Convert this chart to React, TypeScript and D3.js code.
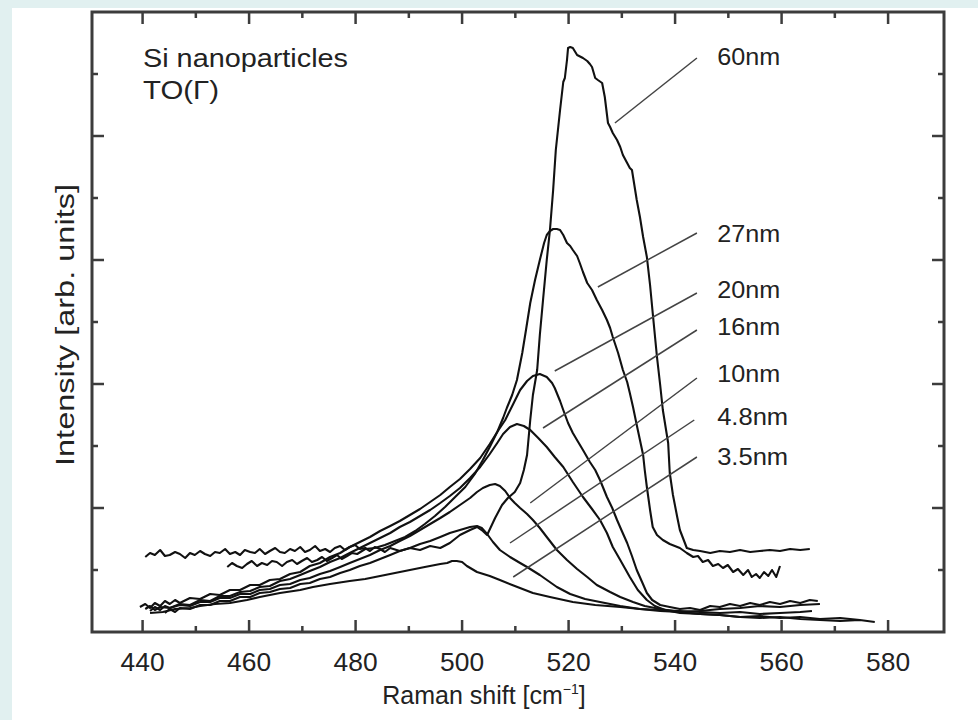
import React from 'react';
import * as d3 from 'd3';

const W = 978;
const H = 720;
const FRAME = { left: 92, right: 944, top: 12, bottom: 632 };

const xDomain: [number, number] = [430.5, 590.5];
const yDomain: [number, number] = [0, 620];

const xMajorTicks = [440, 460, 480, 500, 520, 540, 560, 580];
const xMinorTicks = [450, 470, 490, 510, 530, 550, 570];
const yMajorTicks = [124, 248, 372, 496];
const yMinorTicks = [62, 186, 310, 434, 558];

type P = [number, number];

// Raman shift (cm-1), intensity (arb. units)
const s60nm: P[] = [
  [440.5,75],[441.4,79],[442.3,77],[443.3,82],[444.2,76],[445.1,77],[446.1,80],[447.0,78],[448.0,74],[448.9,79],
  [449.8,77],[450.8,81],[451.7,78],[452.7,76],[453.6,80],[454.5,79],[455.5,83],[456.4,78],[457.4,80],[458.3,77],
  [459.2,82],[460.2,80],[461.1,79],[462.0,83],[463.0,78],[463.9,81],[464.9,84],[465.8,80],[466.7,79],[467.7,83],
  [468.6,81],[469.6,85],[470.5,80],[471.4,82],[472.4,86],[473.3,81],[474.3,83],[475.2,80],[476.1,84],[477.1,86],
  [478.0,82],[478.9,85],[479.9,87],[480.8,83],[481.8,84],[482.7,81],[483.6,85],[484.6,83],[485.5,80],[486.5,84],
  [488.3,81],[490.2,84],[492.1,82],[494.0,86],[495.9,84],[497.7,89],[499.6,97],[501.5,102],[502.8,105],[503.9,101],
  [504.7,97],[506.2,114],[507.5,127],[508.6,134],[509.9,140],[510.9,149],[511.6,162],[512.2,177],[512.8,212],[513.3,237],
  [514.1,262],[514.6,297],[515.2,332],[515.9,372],[516.5,402],[517.1,442],[517.6,482],[518.4,522],[519.0,550],[519.3,554],
  [519.7,572],[519.9,584],[520.3,585],[520.8,584],[521.6,577],[522.7,574],[523.5,571],[524.0,568],[524.4,565],[525.0,554],
  [525.5,552],[526.3,549],[526.8,535],[527.4,509],[527.8,505],[528.3,499],[529.1,492],[529.7,485],[530.2,477],[531.0,469],
  [531.5,464],[531.9,462],[532.8,432],[533.4,415],[534.0,395],[534.7,375],[535.3,347],[535.8,319],[536.6,275],[537.2,247],
  [537.7,222],[538.7,189],[539.0,159],[539.6,137],[540.4,115],[540.9,102],[542.2,84],[543.4,82],[544.7,81],[546.6,79],
  [548.4,81],[550.3,80],[552.2,82],[554.1,80],[555.9,81],[557.8,82],[559.7,81],[561.6,83],[563.5,82],[565.3,83],
];

const s27nm: P[] = [
  [455.9,65],[456.8,69],[457.7,66],[458.7,64],[459.6,68],[460.5,71],[461.5,66],[462.4,69],[463.4,67],[464.3,71],
  [465.2,70],[466.2,66],[467.1,70],[468.1,72],[469.0,68],[469.9,71],[470.9,74],[471.8,70],[472.8,72],[473.7,75],
  [474.6,71],[475.6,74],[476.5,77],[477.4,73],[478.4,76],[479.3,79],[480.3,78],[481.8,83],[483.6,84],[485.5,87],
  [487.4,91],[489.3,95],[491.2,101],[493.0,108],[494.9,116],[496.8,125],[498.7,135],[500.6,145],[502.4,158],[503.9,172],
  [505.2,185],[506.6,200],[507.7,214],[508.4,224],[509.4,237],[510.3,252],[511.3,279],[512.0,302],[512.8,329],[513.7,352],
  [514.6,372],[515.4,389],[515.9,397],[516.5,401],[517.1,403],[517.8,403],[518.4,402],[519.0,397],[519.7,389],[520.3,386],
  [520.8,382],[521.6,376],[522.1,369],[522.7,360],[523.5,349],[524.4,342],[525.3,332],[526.3,322],[527.2,312],[527.8,304],
  [528.3,295],[529.3,279],[530.2,262],[531.0,250],[531.5,239],[532.1,225],[532.8,207],[533.4,192],[534.0,177],[534.3,162],
  [534.7,145],[535.3,122],[535.8,105],[536.6,97],[537.7,92],[539.0,88],[540.9,84],[542.2,79],[543.4,75],[544.3,76],
  [545.2,70],[546.2,72],[547.1,66],[548.1,68],[549.0,64],[549.9,67],[550.9,60],[551.8,63],[552.8,57],[553.7,62],
  [554.4,55],[555.2,58],[555.9,54],[556.7,60],[557.5,56],[558.2,62],[559.0,55],[559.7,66],
];

const s20nm: P[] = [
  [439.5,25],[440.5,28],[441.4,24],[442.3,29],[443.3,26],[444.2,31],[445.1,28],[446.1,32],[447.0,29],[448.9,34],
  [450.8,33],[452.7,38],[454.5,37],[456.4,42],[458.3,42],[460.2,47],[462.0,47],[463.9,52],[465.8,53],[467.7,58],
  [469.6,60],[471.4,66],[473.3,69],[475.2,75],[477.1,79],[478.9,85],[480.8,90],[482.7,95],[484.6,101],[486.5,106],
  [488.3,111],[490.2,117],[492.1,123],[494.0,130],[495.9,137],[497.7,145],[499.6,153],[501.5,163],[503.4,174],[505.2,188],
  [506.6,200],[508.1,212],[509.6,228],[510.9,242],[512.2,251],[513.3,256],[514.6,258],[515.9,255],[516.9,249],[517.4,244],
  [518.4,231],[519.0,222],[519.9,209],[520.8,199],[521.8,190],[522.7,182],[524.0,170],[525.0,162],[525.9,152],[527.2,135],
  [528.2,124],[529.1,112],[530.0,101],[531.0,89],[531.9,76],[532.8,62],[533.8,50],[534.7,39],[535.7,32],[537.2,27],
  [539.0,25],[540.9,23],[542.8,24],[544.7,22],[546.6,26],[548.4,25],[550.3,28],[552.2,26],[554.1,29],[555.9,27],
  [557.8,30],[559.7,28],[561.6,31],[563.5,29],[565.3,32],[566.8,31],
];

const s16nm: P[] = [
  [441.4,21],[442.3,25],[443.3,22],[444.2,26],[445.1,24],[447.0,28],[448.9,27],[450.8,32],[452.7,31],[454.5,36],
  [456.4,36],[458.3,40],[460.2,41],[462.0,45],[463.9,46],[465.8,51],[467.7,53],[469.6,57],[471.4,61],[473.3,65],
  [475.2,70],[477.1,74],[478.9,79],[480.8,84],[482.7,89],[484.6,94],[486.5,99],[488.3,105],[490.2,110],[492.1,116],
  [494.0,122],[495.9,129],[497.7,136],[499.6,144],[501.5,154],[503.4,165],[505.2,178],[506.6,189],[507.7,198],[509.0,205],
  [510.3,208],[511.6,206],[512.8,202],[514.3,194],[515.9,185],[517.4,175],[519.0,165],[520.8,150],[522.7,135],[524.4,123],
  [525.9,112],[527.2,99],[528.3,85],[529.7,72],[531.5,55],[533.0,42],[534.7,32],[536.2,26],[538.1,22],[540.9,19],
  [544.7,18],[548.4,17],[552.2,15],[555.9,16],[559.7,14],[563.5,15],[567.2,13],[571.0,14],[574.7,12],
];

const s10nm: P[] = [
  [440.5,23],[441.4,26],[442.3,22],[443.3,25],[445.1,24],[447.0,27],[448.9,26],[450.8,30],[452.7,30],[454.5,34],
  [456.4,34],[458.3,38],[460.2,38],[462.0,42],[463.9,43],[465.8,47],[467.7,48],[469.6,52],[471.4,54],[473.3,58],
  [475.2,61],[477.1,65],[478.9,69],[480.8,73],[482.7,77],[484.6,82],[486.5,86],[488.3,91],[490.2,96],[492.1,102],
  [494.0,108],[495.9,114],[497.7,120],[499.6,127],[501.5,134],[502.8,140],[503.9,144],[505.2,147],[506.2,148],[507.1,146],
  [508.1,141],[509.0,134],[509.9,129],[510.9,124],[512.2,118],[513.3,112],[514.6,104],[515.9,95],[517.8,82],[519.7,72],
  [521.6,63],[523.5,55],[525.3,47],[527.8,40],[529.7,35],[532.1,30],[534.3,26],[537.2,23],[540.9,20],[544.7,18],
  [548.4,17],[552.2,15],[555.9,14],[559.7,15],[563.5,13],[567.2,12],[571.0,11],[574.7,12],[577.5,10],
];

const s4p8nm: P[] = [
  [444.2,19],[445.1,23],[446.1,20],[447.0,24],[448.9,23],[450.8,27],[452.7,27],[454.5,31],[456.4,31],[458.3,35],
  [460.2,35],[462.0,39],[463.9,40],[465.8,43],[467.7,44],[469.6,48],[471.4,49],[473.3,53],[475.2,55],[477.1,59],
  [478.9,62],[480.8,66],[482.7,69],[484.6,73],[486.5,77],[488.3,81],[490.2,84],[492.1,88],[494.0,91],[495.9,95],
  [497.7,99],[499.6,102],[501.5,105],[502.8,106],[503.7,104],[504.7,98],[505.8,90],[507.1,82],[509.0,75],[510.9,69],
  [512.2,65],[514.6,57],[517.8,45],[520.3,38],[523.1,33],[525.9,30],[529.7,26],[533.4,23],[537.2,21],[540.9,20],
  [544.7,21],[548.4,23],[552.2,24],[555.9,26],[559.7,25],[563.5,27],[567.2,28],
];

const s3p5nm: P[] = [
  [441.4,19],[443.8,20],[446.1,23],[448.9,24],[450.8,26],[453.6,28],[456.4,29],[459.6,32],[462.0,35],[465.8,39],
  [469.6,42],[472.0,45],[475.2,48],[478.9,51],[481.8,53],[484.6,56],[487.4,59],[490.2,62],[493.0,65],[495.9,68],
  [497.2,69],[498.1,71],[499.0,71],[500.0,70],[500.9,66],[502.8,60],[505.2,56],[507.1,52],[509.9,46],[513.3,39],
  [516.5,35],[520.8,30],[525.0,27],[529.7,25],[533.4,23],[537.2,22],[540.9,21],[544.7,20],[548.4,19],[552.2,20],
  [555.9,18],[559.7,19],[563.5,20],[565.7,21],
];

const seriesList: P[][] = [s60nm, s27nm, s20nm, s16nm, s10nm, s4p8nm, s3p5nm];

const sizeLabels = ['60nm', '27nm', '20nm', '16nm', '10nm', '4.8nm', '3.5nm'];
const labelX = 547.9;
const labelBaseline = [567, 390, 334, 297, 250, 207, 167];
const leaderFrom: P[] = [[544.1, 574], [544.1, 399], [544.1, 339], [544.1, 302], [544.1, 254], [543.6, 212], [544.1, 175]];
const leaderTo: P[] = [[528.7, 509], [525.5, 345], [517.4, 261], [515.2, 204], [512.8, 129], [509.0, 89], [509.6, 55]];

const FONT = "'Liberation Sans', Arial, Helvetica, sans-serif";

export default function App() {
  const x = d3.scaleLinear().domain(xDomain).range([FRAME.left, FRAME.right]);
  const y = d3.scaleLinear().domain(yDomain).range([FRAME.bottom, FRAME.top]);
  const line = d3.line<P>().x(d => x(d[0])).y(d => y(d[1]));

  const axisColor = '#3c3c3c';
  const majorLen = 12;
  const minorLen = 6;

  return (
    <div style={{ position: 'fixed', left: 0, top: 0, width: W, height: H }}>
      <svg width={W} height={H} style={{ display: 'block' }} fontFamily={FONT}>
        <rect x={0} y={0} width={W} height={H} fill="#e1f0f0" />
        <rect x={12} y={8} width={W - 12} height={H - 8} fill="#ffffff" />

        {/* curves */}
        <g fill="none" stroke="#111" strokeWidth={2.1} strokeLinejoin="round">
          {seriesList.map((s, i) => (
            <path key={i} d={line(s) || ''} />
          ))}
        </g>

        {/* leaders */}
        <g stroke="#444" strokeWidth={1.5}>
          {leaderFrom.map((p, i) => (
            <line key={i} x1={x(p[0])} y1={y(p[1])} x2={x(leaderTo[i][0])} y2={y(leaderTo[i][1])} />
          ))}
        </g>

        {/* labels */}
        <g fontSize={23} fill="#222">
          {sizeLabels.map((t, i) => (
            <text key={t} x={x(labelX)} y={y(labelBaseline[i])} textLength={t.length > 4 ? 71 : 63} lengthAdjust="spacingAndGlyphs">{t}</text>
          ))}
        </g>

        <text x={143} y={67} fontSize={25} fill="#222" textLength={205} lengthAdjust="spacingAndGlyphs">Si nanoparticles</text>
        <text x={143} y={99} fontSize={25} fill="#222" textLength={76} lengthAdjust="spacingAndGlyphs">TO(Γ)</text>

        {/* frame */}
        <rect x={FRAME.left} y={FRAME.top} width={FRAME.right - FRAME.left} height={FRAME.bottom - FRAME.top}
          fill="none" stroke={axisColor} strokeWidth={3} />

        {/* ticks */}
        <g stroke={axisColor} strokeWidth={2.5}>
          {xMajorTicks.map(v => (
            <g key={'xm' + v}>
              <line x1={x(v)} x2={x(v)} y1={FRAME.bottom} y2={FRAME.bottom - majorLen} />
              <line x1={x(v)} x2={x(v)} y1={FRAME.top} y2={FRAME.top + majorLen} />
            </g>
          ))}
          {xMinorTicks.map(v => (
            <g key={'xn' + v}>
              <line x1={x(v)} x2={x(v)} y1={FRAME.bottom} y2={FRAME.bottom - minorLen} />
              <line x1={x(v)} x2={x(v)} y1={FRAME.top} y2={FRAME.top + minorLen} />
            </g>
          ))}
          {yMajorTicks.map(v => (
            <g key={'ym' + v}>
              <line y1={y(v)} y2={y(v)} x1={FRAME.left} x2={FRAME.left + majorLen} />
              <line y1={y(v)} y2={y(v)} x1={FRAME.right} x2={FRAME.right - majorLen} />
            </g>
          ))}
          {yMinorTicks.map(v => (
            <g key={'yn' + v}>
              <line y1={y(v)} y2={y(v)} x1={FRAME.left} x2={FRAME.left + minorLen} />
              <line y1={y(v)} y2={y(v)} x1={FRAME.right} x2={FRAME.right - minorLen} />
            </g>
          ))}
        </g>

        {/* x tick labels */}
        <g fontSize={25} fill="#222" textAnchor="middle">
          {xMajorTicks.map(v => (
            <text key={'xl' + v} x={x(v)} y={671} textLength={44} lengthAdjust="spacingAndGlyphs">{v}</text>
          ))}
        </g>

        {/* axis titles */}
        <text x={484} y={704} fontSize={25} fill="#222" textAnchor="middle">
          Raman shift [cm<tspan fontSize={14} dy={-10}>−1</tspan><tspan dy={10}>]</tspan>
        </text>
        <text transform="translate(74,325) rotate(-90)" fontSize={26} fill="#222" textAnchor="middle"
          textLength={282} lengthAdjust="spacingAndGlyphs">Intensity [arb. units]</text>
      </svg>
    </div>
  );
}
